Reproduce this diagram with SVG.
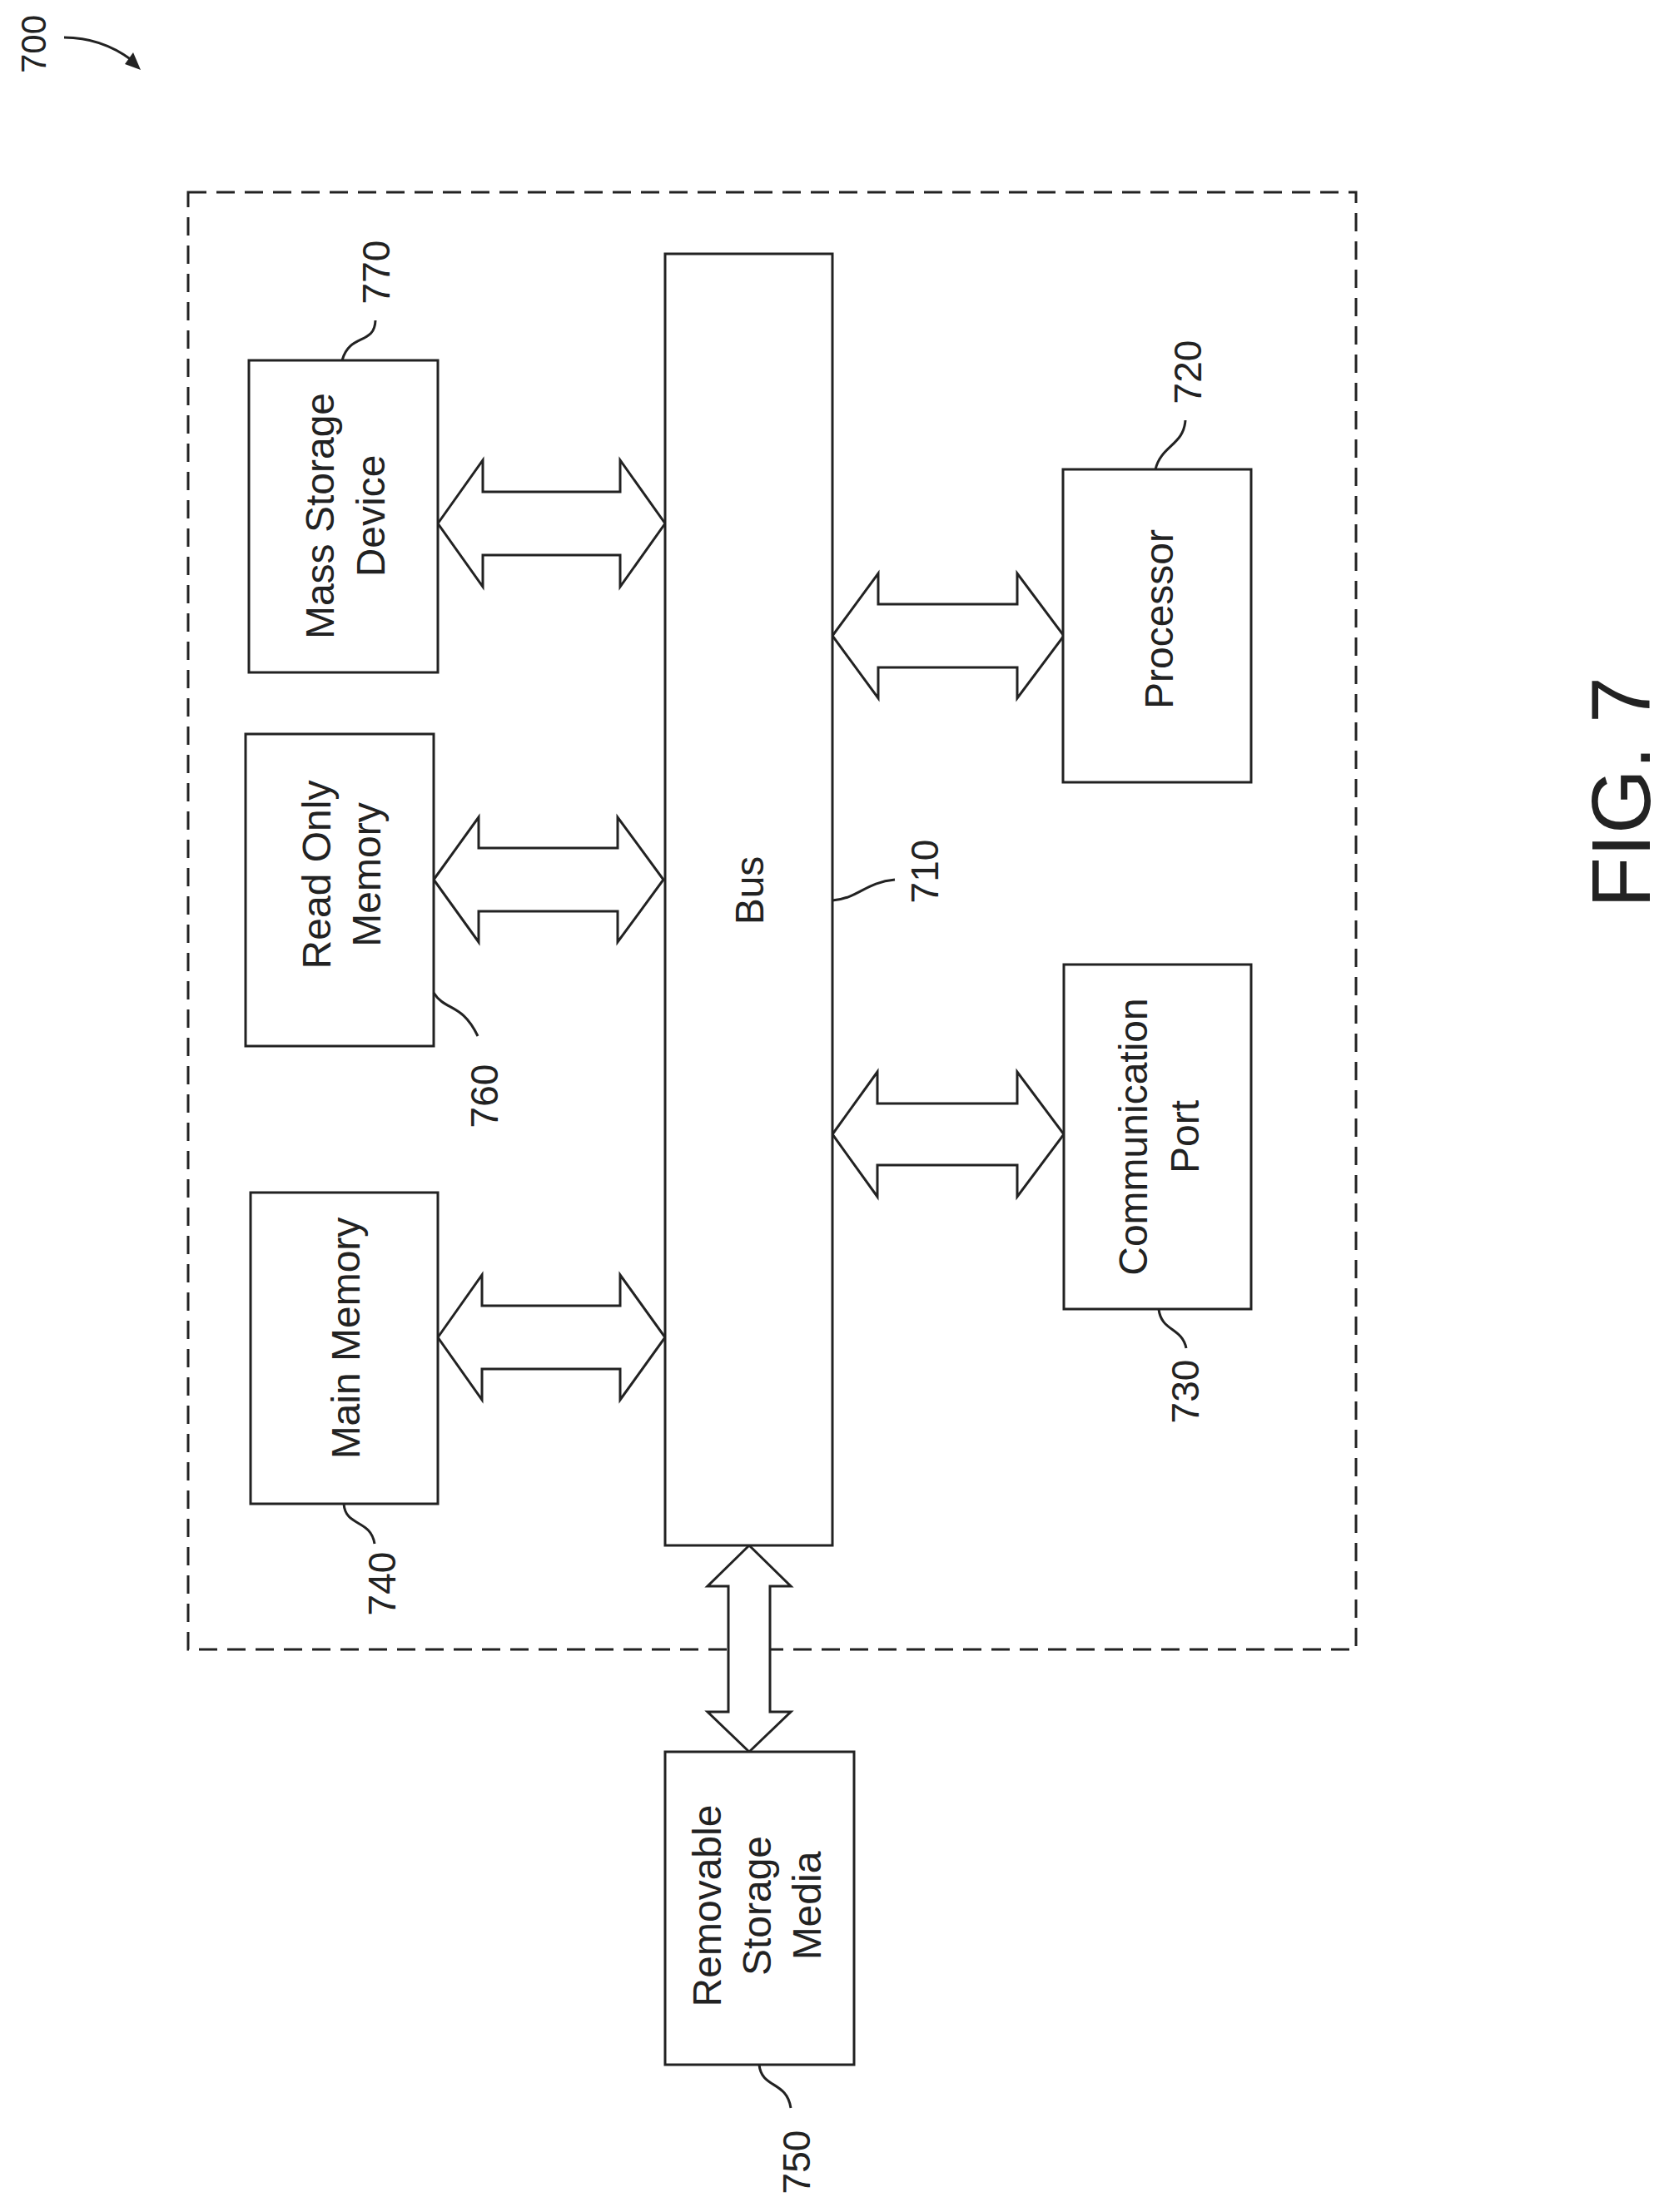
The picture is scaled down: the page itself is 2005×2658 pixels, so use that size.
<svg xmlns="http://www.w3.org/2000/svg" width="2005" height="2658" viewBox="0 0 2005 2658">
<style>
.box{fill:#fff;stroke:#222;stroke-width:3}
.arr{fill:#fff;stroke:#222;stroke-width:3;stroke-linejoin:miter}
.ld{fill:none;stroke:#222;stroke-width:3}
.t{font-family:"Liberation Sans",Arial,sans-serif;font-size:48px;fill:#222;text-anchor:middle}
.n{font-family:"Liberation Sans",Arial,sans-serif;font-size:46px;fill:#222;text-anchor:middle}
</style>
<rect width="2005" height="2658" fill="#fff"/>
<g id="frame"><rect x="226" y="231" width="1403" height="1751" fill="none" stroke="#222" stroke-width="3" stroke-dasharray="22,12"/></g>
<g id="connectors">
<polygon class="arr" points="526,629 580,553 580,591 745,591 745,553 799,629 745,705 745,667 580,667 580,705"/>
<polygon class="arr" points="521,1057 575,982 575,1019 742,1019 742,982 797,1057 742,1132 742,1095 575,1095 575,1132"/>
<polygon class="arr" points="526,1607 579,1532 579,1569 745,1569 745,1532 799,1607 745,1682 745,1645 579,1645 579,1682"/>
<polygon class="arr" points="1000,764 1055,689 1055,726 1222,726 1222,689 1278,764 1222,839 1222,802 1055,802 1055,839"/>
<polygon class="arr" points="1000,1363 1054,1288 1054,1326 1222,1326 1222,1288 1278,1363 1222,1438 1222,1400 1054,1400 1054,1438"/>
<polygon class="arr" points="900,1857 950,1906 925,1906 925,2057 950,2057 900,2105 850,2057 875,2057 875,1906 850,1906"/>
</g>
<g id="n770"><rect class="box" x="299" y="433" width="227" height="375"/><text class="t" transform="translate(412,620) rotate(-90)"><tspan x="0" y="-11">Mass Storage</tspan><tspan x="0" y="50">Device</tspan></text><path class="ld" d="M411,433 C420,400 450,415 451,385"/><text class="n" transform="translate(468,327) rotate(-90)">770</text></g>
<g id="n760"><rect class="box" x="295" y="882" width="226" height="375"/><text class="t" transform="translate(408,1051) rotate(-90)"><tspan x="0" y="-11">Read Only</tspan><tspan x="0" y="49">Memory</tspan></text><path class="ld" d="M521,1193 C535,1215 555,1205 574,1245"/><text class="n" transform="translate(598,1317) rotate(-90)">760</text></g>
<g id="n740"><rect class="box" x="301" y="1433" width="225" height="374"/><text class="t" transform="translate(413,1608) rotate(-90)"><tspan x="0" y="19">Main Memory</tspan></text><path class="ld" d="M413,1807 C415,1835 445,1825 450,1855"/><text class="n" transform="translate(475,1903) rotate(-90)">740</text></g>
<g id="n710"><rect class="box" x="799" y="305" width="201" height="1552"/><text class="t" transform="translate(900,1070) rotate(-90)"><tspan x="0" y="17">Bus</tspan></text><path class="ld" d="M1000,1082 C1030,1080 1040,1060 1075,1057"/><text class="n" transform="translate(1127,1047) rotate(-90)">710</text></g>
<g id="n720"><rect class="box" x="1277" y="564" width="226" height="376"/><text class="t" transform="translate(1390,744) rotate(-90)"><tspan x="0" y="19">Processor</tspan></text><path class="ld" d="M1388,564 C1395,535 1422,535 1424,505"/><text class="n" transform="translate(1443,447) rotate(-90)">720</text></g>
<g id="n730"><rect class="box" x="1278" y="1159" width="225" height="414"/><text class="t" transform="translate(1390,1366) rotate(-90)"><tspan x="0" y="-12">Communication</tspan><tspan x="0" y="50">Port</tspan></text><path class="ld" d="M1392,1573 C1395,1600 1420,1595 1425,1620"/><text class="n" transform="translate(1440,1672) rotate(-90)">730</text></g>
<g id="n750"><rect class="box" x="799" y="2105" width="227" height="376"/><text class="t" transform="translate(912,2290) rotate(-90)"><tspan x="0" y="-46">Removable</tspan><tspan x="0" y="14">Storage</tspan><tspan x="0" y="74">Media</tspan></text><path class="ld" d="M912,2481 C915,2510 945,2500 950,2533"/><text class="n" transform="translate(973,2598) rotate(-90)">750</text></g>
<g id="n700"><text class="n" style="font-size:42px" transform="translate(55,53) rotate(-90)">700</text><path class="ld" d="M77,45 C110,45 135,55 158,72"/><polygon points="169,84 150,77 160,63" fill="#222"/></g>
<g id="fig"><text class="t" style="font-size:100px" transform="translate(1982,952) rotate(-90)">FIG. 7</text></g>
</svg>
